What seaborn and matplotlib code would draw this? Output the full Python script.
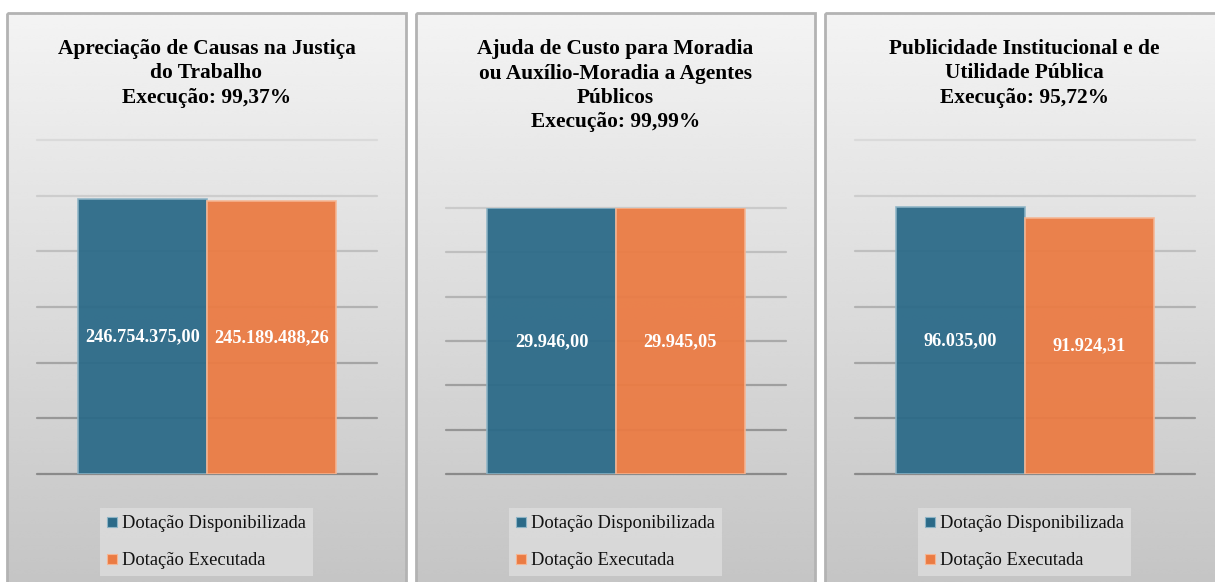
import numpy as np
import pandas as pd
import matplotlib
matplotlib.use("Agg")
import matplotlib.pyplot as plt
import seaborn as sns
from matplotlib.patches import Rectangle
from matplotlib.lines import Line2D

# ---- data ----
titles = [
    "Apreciação de Causas na Justiça\ndo Trabalho",
    "Ajuda de Custo para Moradia\nou Auxílio-Moradia a Agentes\nPúblicos",
    "Publicidade Institucional e de\nUtilidade Pública",
]
execucao = ["99,37%", "99,99%", "95,72%"]
series = ["Dotação Disponibilizada", "Dotação Executada"]
disponibilizada = [246754375.00, 29946.00, 96035.00]
executada = [245189488.26, 29945.05, 91924.31]
y_max = [300e6, 30000, 120000]
y_step = [50e6, 5000, 20000]

# ---- style ----
sns.set_theme(style="white")
plt.rcParams["font.family"] = ["Liberation Serif", "DejaVu Serif"]

TEAL = "#2b6a88"
ORANGE = "#eb7b43"
TEAL_EDGE = "#8db4c6"
ORANGE_EDGE = "#f6b592"

W, H = 1215, 582
fig = plt.figure(figsize=(W / 100, H / 100), dpi=100)
fig.patch.set_facecolor("white")

# background layer in pixel coordinates
bg = fig.add_axes([0, 0, 1, 1], zorder=0)
bg.set_xlim(0, W)
bg.set_ylim(H, 0)
bg.axis("off")

panel_left = [7, 416, 825]
panel_w = 399
panel_top = 13
panel_bottom = 620

plot_left = [37, 446, 855]
plot_top = [140, 208, 140]
plot_bottom = 474
plot_w = 340

grad = np.linspace(0.955, 0.76, 256).reshape(-1, 1)


def px_to_fig(x0, y0, w, h):
    return [x0 / W, 1 - (y0 + h) / H, w / W, h / H]


def fmt_br(v):
    s = f"{v:,.2f}"
    return s.replace(",", "#").replace(".", ",").replace("#", ".")


def grid_gray(y_px):
    # gridlines get darker towards the bottom of the panel
    f = np.clip((y_px - 140) / (474 - 140), 0, 1)
    g = (218 - f * (218 - 138)) / 255
    return (g, g, g)


for i in range(3):
    pl = panel_left[i]
    bg.imshow(grad, cmap="gray", vmin=0, vmax=1, aspect="auto",
              extent=(pl, pl + panel_w, panel_bottom, panel_top),
              interpolation="bicubic", zorder=1)
    bg.add_patch(Rectangle((pl, panel_top), panel_w, panel_bottom - panel_top,
                           fill=False, edgecolor="#b3b3b3", lw=2, zorder=2))
    cx = pl + panel_w / 2
    bg.text(cx, 39, titles[i] + "\nExecução: " + execucao[i],
            ha="center", va="top", fontsize=15.4, fontweight="bold",
            color="black", linespacing=1.3, zorder=3)

    df = pd.DataFrame({
        "grupo": ["A", "A"],
        "serie": series,
        "valor": [disponibilizada[i], executada[i]],
    })

    h_px = plot_bottom - plot_top[i]
    ax = fig.add_axes(px_to_fig(plot_left[i], plot_top[i], plot_w, h_px),
                      zorder=2)
    ax.set_facecolor("none")
    ticks = np.arange(0, y_max[i] + y_step[i] / 2, y_step[i])
    for t in ticks:
        y_px = plot_bottom - t / y_max[i] * h_px
        ax.axhline(t, color=grid_gray(y_px), lw=1.6, zorder=0, clip_on=False)
    sns.barplot(data=df, x="grupo", y="valor", hue="serie", hue_order=series,
                palette=[TEAL, ORANGE], saturation=1, width=0.757, gap=0,
                legend=False, ax=ax, alpha=0.94, linewidth=1.2, zorder=2)
    for cont, ec in zip(ax.containers, [TEAL_EDGE, ORANGE_EDGE]):
        for p in cont:
            p.set_edgecolor(ec)
    ax.set_xlim(-0.5, 0.5)
    ax.set_ylim(0, y_max[i])
    ax.set_yticks(ticks)
    ax.grid(False)
    ax.tick_params(left=False, bottom=False, labelleft=False, labelbottom=False)
    ax.set_xlabel("")
    ax.set_ylabel("")
    for s in ax.spines.values():
        s.set_visible(False)
    for cont, v in zip(ax.containers, [disponibilizada[i], executada[i]]):
        ax.bar_label(cont, labels=[fmt_br(v)], label_type="center",
                     color="white", fontweight="bold", fontsize=13.2)

    handles = [Line2D([], [], marker="s", ls="none", markersize=7.2,
                      markerfacecolor=c, markeredgecolor=e, markeredgewidth=0.8)
               for c, e in [(TEAL, TEAL_EDGE), (ORANGE, ORANGE_EDGE)]]
    leg = ax.legend(handles, series, loc="upper center",
                    bbox_to_anchor=(cx, 508), bbox_transform=bg.transData,
                    frameon=True, fontsize=13.3, handlelength=0.6,
                    handletextpad=0.25, labelspacing=1.08, borderpad=0.38,
                    fancybox=False, borderaxespad=0)
    leg.get_frame().set_facecolor("#dcdcdc")
    leg.get_frame().set_edgecolor("none")
    leg.get_frame().set_alpha(0.85)
    for t in leg.get_texts():
        t.set_color("#111111")

fig.savefig("out.png", dpi=100)
